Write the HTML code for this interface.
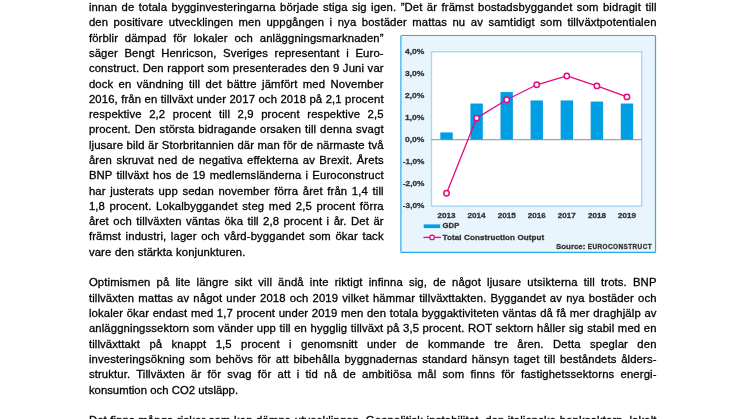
<!DOCTYPE html>
<html lang="sv"><head><meta charset="utf-8"><title>Euroconstruct</title>
<style>
html,body{margin:0;padding:0;background:#fff;}
body{width:746px;height:419px;overflow:hidden;position:relative;font-family:"Liberation Sans",sans-serif;}
#pg{position:absolute;left:0;top:0;width:746px;height:419px;overflow:hidden;background:#fff;}
.l{position:absolute;left:88.90px;height:15.00px;line-height:15.00px;font-size:11.30px;letter-spacing:0.13px;color:#000;-webkit-text-stroke:0.3px #000;white-space:nowrap;text-align:justify;text-align-last:justify;overflow:visible;}
svg{position:absolute;left:0;top:0;}
svg text{font-family:"Liberation Sans",sans-serif;font-weight:bold;fill:#333;stroke:#333;stroke-width:0.3px;}
#tx{position:absolute;left:0;top:0;width:746px;height:419px;filter:grayscale(1);}
</style></head><body><div id="pg">
<svg width="746" height="419" viewBox="0 0 746 419">
<rect x="400.90" y="35.50" width="254.60" height="216.90" rx="1" fill="#e9f5fd" stroke="#2dace3" stroke-width="1.20"/>
<rect x="431.50" y="51.70" width="210.20" height="154.40" fill="#ffffff" stroke="#a5d8f5" stroke-width="1.4"/>
<rect x="440.34" y="132.43" width="12.40" height="7.50" fill="#009ee3"/>
<rect x="470.41" y="103.53" width="12.40" height="36.39" fill="#009ee3"/>
<rect x="500.48" y="92.06" width="12.40" height="47.86" fill="#009ee3"/>
<rect x="530.55" y="100.45" width="12.40" height="39.48" fill="#009ee3"/>
<rect x="560.62" y="100.45" width="12.40" height="39.48" fill="#009ee3"/>
<rect x="590.69" y="101.55" width="12.40" height="38.38" fill="#009ee3"/>
<rect x="620.76" y="103.53" width="12.40" height="36.39" fill="#009ee3"/>
<line x1="431.50" y1="139.73" x2="641.70" y2="139.73" stroke="#8c8c8c" stroke-width="1.0"/>
<polyline points="446.54,193.31 476.61,118.09 506.68,99.78 536.75,84.79 566.82,75.96 596.89,85.89 626.96,96.92" fill="none" stroke="#e5087e" stroke-width="1.3" stroke-linejoin="round"/>
<circle cx="446.54" cy="193.31" r="2.7" fill="#fff" stroke="#e5087e" stroke-width="1.5"/>
<circle cx="476.61" cy="118.09" r="2.7" fill="#fff" stroke="#e5087e" stroke-width="1.5"/>
<circle cx="506.68" cy="99.78" r="2.7" fill="#fff" stroke="#e5087e" stroke-width="1.5"/>
<circle cx="536.75" cy="84.79" r="2.7" fill="#fff" stroke="#e5087e" stroke-width="1.5"/>
<circle cx="566.82" cy="75.96" r="2.7" fill="#fff" stroke="#e5087e" stroke-width="1.5"/>
<circle cx="596.89" cy="85.89" r="2.7" fill="#fff" stroke="#e5087e" stroke-width="1.5"/>
<circle cx="626.96" cy="96.92" r="2.7" fill="#fff" stroke="#e5087e" stroke-width="1.5"/>
<rect x="423.7" y="224.4" width="16.5" height="3.7" fill="#009ee3"/>
<line x1="423.4" y1="237.4" x2="440.9" y2="237.4" stroke="#e5087e" stroke-width="1.3"/>
<circle cx="432.1" cy="237.4" r="2.3" fill="#fff" stroke="#e5087e" stroke-width="1.3"/>
</svg>
<div id="tx">
<div class="l" id="L1" style="top:0.00px;width:567.70px;">innan de totala bygginvesteringarna började stiga sig igen. ”Det är främst bostadsbyggandet som bidragit till</div>
<div class="l" id="L2" style="top:15.00px;width:567.70px;">den positivare utvecklingen men uppgången i nya bostäder mattas nu av samtidigt som tillväxtpotentialen</div>
<div class="l" id="L3" style="top:31.00px;width:294.80px;">förblir dämpad för lokaler och anläggningsmarknaden”</div>
<div class="l" id="L4" style="top:46.00px;width:294.80px;">säger Bengt Henricson, Sveriges representant i Euro-</div>
<div class="l" id="L5" style="top:61.00px;width:294.80px;">construct. Den rapport som presenterades den 9 Juni var</div>
<div class="l" id="L6" style="top:77.00px;width:294.80px;">dock en vändning till det bättre jämfört med November</div>
<div class="l" id="L7" style="top:92.00px;width:294.80px;">2016, från en tillväxt under 2017 och 2018 på 2,1 procent</div>
<div class="l" id="L8" style="top:107.00px;width:294.80px;">respektive 2,2 procent till 2,9 procent respektive 2,5</div>
<div class="l" id="L9" style="top:122.00px;width:294.80px;">procent. Den största bidragande orsaken till denna svagt</div>
<div class="l" id="L10" style="top:138.00px;width:294.80px;">ljusare bild är Storbritannien där man för de närmaste två</div>
<div class="l" id="L11" style="top:153.00px;width:294.80px;">åren skruvat ned de negativa effekterna av Brexit. Årets</div>
<div class="l" id="L12" style="top:168.00px;width:294.80px;">BNP tillväxt hos de 19 medlemsländerna i Euroconstruct</div>
<div class="l" id="L13" style="top:184.00px;width:294.80px;">har justerats upp sedan november förra året från 1,4 till</div>
<div class="l" id="L14" style="top:199.00px;width:294.80px;">1,8 procent. Lokalbyggandet steg med 2,5 procent förra</div>
<div class="l" id="L15" style="top:214.00px;width:294.80px;">året och tillväxten väntas öka till 2,8 procent i år. Det är</div>
<div class="l" id="L16" style="top:229.00px;width:294.80px;">främst industri, lager och vård-byggandet som ökar tack</div>
<div class="l" id="L17" style="top:245.00px;width:156.60px;">vare den stärkta konjunkturen.</div>
<div class="l" id="L19" style="top:275.00px;width:567.70px;">Optimismen på lite längre sikt vill ändå inte riktigt infinna sig, de något ljusare utsikterna till trots. BNP</div>
<div class="l" id="L20" style="top:291.00px;width:567.70px;">tillväxten mattas av något under 2018 och 2019 vilket hämmar tillväxttakten. Byggandet av nya bostäder och</div>
<div class="l" id="L21" style="top:306.00px;width:567.70px;">lokaler ökar endast med 1,7 procent under 2019 men den totala byggaktiviteten väntas då få mer draghjälp av</div>
<div class="l" id="L22" style="top:321.00px;width:567.70px;">anläggningssektorn som vänder upp till en hygglig tillväxt på 3,5 procent. ROT sektorn håller sig stabil med en</div>
<div class="l" id="L23" style="top:337.00px;width:567.70px;">tillväxttakt på knappt 1,5 procent i genomsnitt under de kommande tre åren. Detta speglar den</div>
<div class="l" id="L24" style="top:352.00px;width:567.70px;">investeringsökning som behövs för att bibehålla byggnadernas standard hänsyn taget till beståndets ålders-</div>
<div class="l" id="L25" style="top:367.00px;width:567.70px;">struktur. Tillväxten är för svag för att i tid nå de ambitiösa mål som finns för fastighetssektorns energi-</div>
<div class="l" id="L26" style="top:383.00px;width:149.20px;letter-spacing:0.030px;">konsumtion och CO2 utsläpp.</div>
<div class="l" id="L28" style="top:413.00px;width:567.70px;">Det finns många risker som kan dämpa utvecklingen. Geopolitisk instabilitet, den italienska banksektorn, lokalt</div>
<svg width="746" height="419" viewBox="0 0 746 419">
<text x="405.00" y="53.90" font-size="7.9" textLength="19.4" lengthAdjust="spacingAndGlyphs">4,0%</text>
<text x="405.00" y="75.96" font-size="7.9" textLength="19.4" lengthAdjust="spacingAndGlyphs">3,0%</text>
<text x="405.00" y="98.01" font-size="7.9" textLength="19.4" lengthAdjust="spacingAndGlyphs">2,0%</text>
<text x="405.00" y="120.07" font-size="7.9" textLength="19.4" lengthAdjust="spacingAndGlyphs">1,0%</text>
<text x="405.00" y="142.13" font-size="7.9" textLength="19.4" lengthAdjust="spacingAndGlyphs">0,0%</text>
<text x="402.80" y="164.19" font-size="7.9" textLength="21.6" lengthAdjust="spacingAndGlyphs">-1,0%</text>
<text x="402.80" y="186.24" font-size="7.9" textLength="21.6" lengthAdjust="spacingAndGlyphs">-2,0%</text>
<text x="402.80" y="208.30" font-size="7.9" textLength="21.6" lengthAdjust="spacingAndGlyphs">-3,0%</text>
<text x="446.54" y="218.1" font-size="8.1" text-anchor="middle">2013</text>
<text x="476.61" y="218.1" font-size="8.1" text-anchor="middle">2014</text>
<text x="506.68" y="218.1" font-size="8.1" text-anchor="middle">2015</text>
<text x="536.75" y="218.1" font-size="8.1" text-anchor="middle">2016</text>
<text x="566.82" y="218.1" font-size="8.1" text-anchor="middle">2017</text>
<text x="596.89" y="218.1" font-size="8.1" text-anchor="middle">2018</text>
<text x="626.96" y="218.1" font-size="8.1" text-anchor="middle">2019</text>
<text x="442.6" y="228.2" font-size="7.7">GDP</text>
<text x="442.6" y="239.5" font-size="8" textLength="101.6" lengthAdjust="spacing">Total Construction Output</text>
<text x="556.1" y="248.75" font-size="8.1" textLength="29.2" lengthAdjust="spacingAndGlyphs">Source:</text>
<text x="587.7" y="248.75" font-size="6.4" textLength="63.9" lengthAdjust="spacing">EUROCONSTRUCT</text>
</svg>
</div>
</div></body></html>
